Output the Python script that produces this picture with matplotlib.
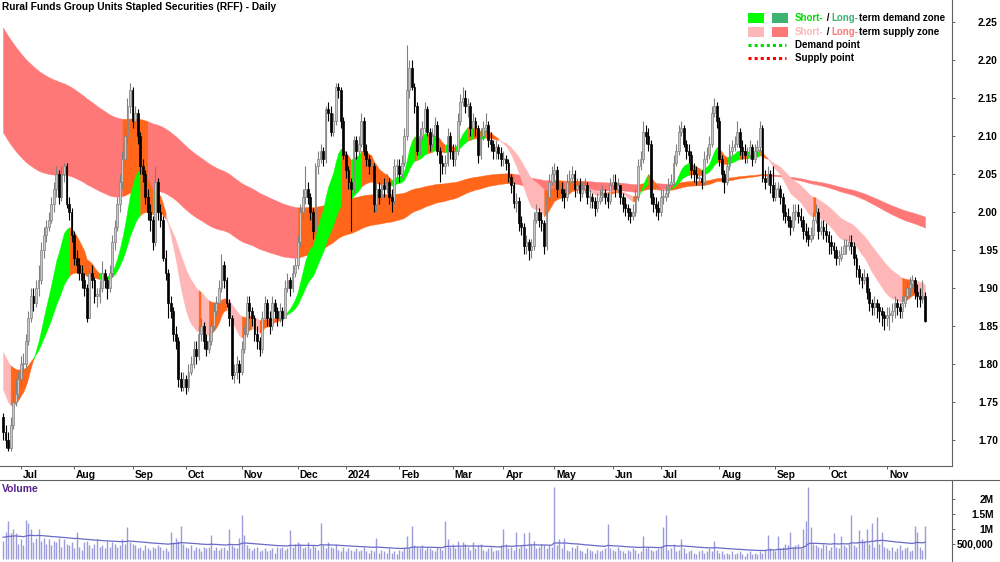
import numpy as np
import pandas as pd
import matplotlib
matplotlib.use("Agg")
import matplotlib.pyplot as plt
from matplotlib.lines import Line2D
from matplotlib.patches import Rectangle
import matplotlib.transforms as mtransforms

plt.rcParams['font.family'] = ['Liberation Sans', 'DejaVu Sans']
plt.rcParams['font.weight'] = 'bold'

TITLE = "Rural Funds Group Units Stapled Securities (RFF) - Daily"
HOLIDAYS = ["2023-12-25", "2023-12-26", "2024-01-01", "2024-01-26",
            "2024-03-29", "2024-04-01", "2024-04-25", "2024-06-10"]
dates = pd.bdate_range("2023-06-22", "2024-11-22")
dates = dates[~dates.isin(pd.to_datetime(HOLIDAYS))]

first_open = 1.73
closes = [
    1.71, 1.70, 1.69, 1.72, 1.75, 1.76, 1.78, 1.80, 1.80, 1.83,
    1.86, 1.89, 1.88, 1.90, 1.91, 1.95, 1.97, 1.98, 1.99, 2.01,
    2.03, 2.05, 2.02, 2.05, 2.06, 2.01, 2.00, 1.97, 1.94,
    1.93, 1.92, 1.91, 1.90, 1.86, 1.92, 1.91, 1.89, 1.89, 1.90,
    1.92, 1.91, 1.90, 1.92, 1.96, 1.98, 2.01, 2.04, 2.07, 2.10,
    2.14, 2.16, 2.12, 2.13, 2.10, 2.06, 2.05, 2.02, 2.00, 1.99,
    1.96, 2.04, 2.00, 1.99, 1.94, 1.92, 1.88, 1.87, 1.84, 1.83,
    1.78, 1.77, 1.78, 1.77, 1.79, 1.80, 1.82, 1.81, 1.84,
    1.85, 1.83, 1.82, 1.83, 1.85, 1.87, 1.88, 1.90, 1.93, 1.91,
    1.88, 1.86, 1.785, 1.79, 1.80, 1.79, 1.82, 1.84, 1.88, 1.87,
    1.86, 1.84, 1.83, 1.82, 1.86, 1.88, 1.86, 1.85, 1.88, 1.87,
    1.86, 1.87, 1.86, 1.90, 1.91, 1.90, 1.92, 1.93, 1.96,
    2.00, 2.02, 2.03, 2.02, 2.00, 1.975, 2.06, 2.07, 2.08, 2.07,
    2.135, 2.13, 2.105, 2.12, 2.165, 2.16, 2.12, 2.075, 2.055, 2.04,
    2.03, 2.095, 2.08, 2.09, 2.12, 2.08, 2.07, 2.06, 2.06, 2.01,
    2.03, 2.02, 2.035, 2.03, 2.04, 2.02, 2.015, 2.06, 2.06,
    2.05, 2.065, 2.10, 2.16, 2.19, 2.165, 2.14, 2.08, 2.10, 2.11,
    2.135, 2.105, 2.09, 2.10, 2.115, 2.08, 2.065, 2.06, 2.065, 2.10,
    2.08, 2.07, 2.08, 2.12, 2.145, 2.15, 2.14, 2.14, 2.11, 2.12,
    2.11, 2.075, 2.10, 2.11, 2.115, 2.095, 2.09, 2.08, 2.085, 2.077,
    2.07, 2.07, 2.065, 2.046, 2.035, 2.012, 2.015, 1.985, 1.98,
    1.955, 1.96, 1.95, 1.955, 1.99, 2.00, 1.99, 1.985, 1.955, 2.02,
    2.04, 2.05, 2.055, 2.03, 2.03, 2.025, 2.02, 2.04, 2.045, 2.05,
    2.03, 2.035, 2.025, 2.03, 2.035, 2.02, 2.02, 2.015, 2.005, 2.015,
    2.02, 2.025, 2.02, 2.015, 2.035, 2.04, 2.03, 2.035, 2.02,
    2.01, 2.005, 2.00, 1.995, 2.00, 2.02, 2.06, 2.07, 2.105, 2.10,
    2.09, 2.02, 2.01, 2.005, 2.00, 2.02, 2.02, 2.025, 2.035, 2.04,
    2.065, 2.08, 2.105, 2.11, 2.09, 2.08, 2.075, 2.055, 2.05, 2.045,
    2.045, 2.04, 2.07, 2.075, 2.09, 2.13, 2.14, 2.12, 2.07, 2.05,
    2.04, 2.06, 2.08, 2.085, 2.09, 2.105, 2.085, 2.08, 2.075,
    2.075, 2.085, 2.07, 2.08, 2.085, 2.11, 2.045, 2.04, 2.05, 2.035,
    2.02, 2.03, 2.03, 2.02, 2.00, 1.995, 1.99, 1.98, 2.00, 2.00,
    1.995, 1.99, 1.975, 1.97, 1.965, 1.97, 1.99, 2.00, 1.975, 1.98,
    1.975, 1.97, 1.96, 1.955, 1.95, 1.94, 1.94, 1.945, 1.955,
    1.955, 1.96, 1.955, 1.94, 1.925, 1.915, 1.91, 1.915, 1.895, 1.88,
    1.875, 1.88, 1.875, 1.87, 1.865, 1.86, 1.865, 1.865, 1.87, 1.88,
    1.875, 1.87, 1.88, 1.89, 1.90, 1.905, 1.91, 1.895, 1.89, 1.885,
    1.89, 1.857,
]
highs = [
    1.735, 1.72, 1.71, 1.73, 1.76, 1.78, 1.79, 1.81, 1.815, 1.84,
    1.87, 1.90, 1.90, 1.91, 1.93, 1.96, 1.98, 1.99, 2.00, 2.02,
    2.04, 2.06, 2.055, 2.06, 2.065, 2.065, 2.02, 2.005, 1.975,
    1.95, 1.94, 1.93, 1.92, 1.905, 1.925, 1.93, 1.915, 1.90, 1.91,
    1.935, 1.925, 1.915, 1.93, 1.97, 1.99, 2.02, 2.05, 2.08, 2.11,
    2.15, 2.17, 2.165, 2.14, 2.135, 2.105, 2.07, 2.055, 2.03, 2.01,
    1.995, 2.06, 2.045, 2.01, 1.995, 1.95, 1.925, 1.89, 1.875, 1.85,
    1.835, 1.79, 1.79, 1.785, 1.80, 1.81, 1.83, 1.83, 1.85,
    1.86, 1.855, 1.84, 1.84, 1.86, 1.88, 1.89, 1.91, 1.945, 1.935,
    1.915, 1.885, 1.865, 1.80, 1.81, 1.805, 1.83, 1.85, 1.89, 1.89,
    1.875, 1.865, 1.85, 1.835, 1.87, 1.89, 1.885, 1.87, 1.89, 1.885,
    1.875, 1.88, 1.875, 1.91, 1.92, 1.915, 1.93, 1.94, 1.97,
    2.01, 2.03, 2.06, 2.04, 2.025, 2.005, 2.065, 2.08, 2.09, 2.085,
    2.14, 2.145, 2.14, 2.13, 2.17, 2.17, 2.165, 2.125, 2.08, 2.06,
    2.045, 2.10, 2.10, 2.10, 2.13, 2.125, 2.09, 2.075, 2.07, 2.065,
    2.04, 2.04, 2.045, 2.045, 2.05, 2.045, 2.03, 2.07, 2.07,
    2.07, 2.075, 2.11, 2.22, 2.20, 2.20, 2.17, 2.145, 2.11, 2.12,
    2.145, 2.14, 2.11, 2.11, 2.125, 2.12, 2.085, 2.075, 2.075, 2.11,
    2.105, 2.09, 2.09, 2.13, 2.155, 2.165, 2.16, 2.15, 2.145, 2.13,
    2.125, 2.115, 2.11, 2.12, 2.13, 2.12, 2.105, 2.095, 2.095, 2.09,
    2.085, 2.08, 2.075, 2.07, 2.05, 2.04, 2.025, 2.02, 1.995,
    1.985, 1.97, 1.965, 1.965, 2.00, 2.01, 2.005, 2.00, 1.99, 2.025,
    2.05, 2.06, 2.065, 2.06, 2.04, 2.04, 2.03, 2.05, 2.055, 2.06,
    2.055, 2.045, 2.045, 2.04, 2.045, 2.04, 2.03, 2.025, 2.02, 2.025,
    2.03, 2.035, 2.03, 2.025, 2.045, 2.05, 2.05, 2.045, 2.03,
    2.025, 2.02, 2.01, 2.005, 2.01, 2.03, 2.07, 2.08, 2.12, 2.115,
    2.11, 2.095, 2.025, 2.02, 2.015, 2.03, 2.03, 2.035, 2.045, 2.05,
    2.075, 2.09, 2.115, 2.12, 2.115, 2.095, 2.09, 2.08, 2.065, 2.06,
    2.055, 2.055, 2.08, 2.085, 2.10, 2.14, 2.15, 2.145, 2.125, 2.075,
    2.055, 2.07, 2.09, 2.095, 2.10, 2.12, 2.11, 2.095, 2.09,
    2.085, 2.095, 2.09, 2.09, 2.095, 2.12, 2.115, 2.055, 2.06, 2.055,
    2.06, 2.04, 2.04, 2.035, 2.025, 2.01, 2.005, 1.995, 2.01, 2.01,
    2.01, 2.005, 1.995, 1.985, 1.98, 1.98, 2.00, 2.01, 2.005, 1.99,
    1.99, 1.985, 1.975, 1.97, 1.96, 1.955, 1.95, 1.955, 1.965,
    1.965, 1.97, 1.97, 1.96, 1.945, 1.93, 1.92, 1.925, 1.92, 1.90,
    1.885, 1.89, 1.885, 1.88, 1.875, 1.87, 1.875, 1.875, 1.88, 1.89,
    1.885, 1.88, 1.89, 1.90, 1.91, 1.915, 1.917, 1.915, 1.905, 1.90,
    1.91, 1.895,
]
lows = [
    1.70, 1.69, 1.685, 1.685, 1.715, 1.745, 1.755, 1.77, 1.79, 1.795,
    1.825, 1.855, 1.87, 1.875, 1.89, 1.905, 1.94, 1.96, 1.975, 1.985,
    2.00, 2.02, 2.01, 2.015, 2.04, 2.005, 1.99, 1.96, 1.93,
    1.92, 1.91, 1.90, 1.89, 1.855, 1.86, 1.90, 1.88, 1.875, 1.88,
    1.895, 1.90, 1.885, 1.895, 1.915, 1.95, 1.975, 2.00, 2.03, 2.06,
    2.09, 2.13, 2.11, 2.11, 2.09, 2.05, 2.04, 2.01, 1.99, 1.975,
    1.95, 1.955, 1.99, 1.98, 1.935, 1.91, 1.86, 1.86, 1.83, 1.82,
    1.77, 1.765, 1.765, 1.76, 1.765, 1.785, 1.795, 1.80, 1.805,
    1.83, 1.82, 1.81, 1.815, 1.825, 1.845, 1.865, 1.875, 1.895, 1.90,
    1.875, 1.85, 1.78, 1.775, 1.78, 1.775, 1.785, 1.815, 1.835, 1.86,
    1.85, 1.83, 1.82, 1.81, 1.815, 1.855, 1.85, 1.84, 1.845, 1.86,
    1.85, 1.855, 1.85, 1.865, 1.895, 1.89, 1.895, 1.915, 1.925,
    1.955, 1.99, 2.01, 2.01, 1.99, 1.965, 1.97, 2.05, 2.065, 2.06,
    2.065, 2.12, 2.10, 2.10, 2.115, 2.15, 2.11, 2.07, 2.045, 2.03,
    1.975, 2.025, 2.07, 2.075, 2.085, 2.075, 2.06, 2.05, 2.045, 2.00,
    2.00, 2.01, 2.015, 2.02, 2.025, 2.01, 2.00, 2.01, 2.045,
    2.04, 2.045, 2.06, 2.095, 2.15, 2.16, 2.13, 2.075, 2.075, 2.095,
    2.105, 2.10, 2.08, 2.085, 2.095, 2.075, 2.04, 2.05, 2.05, 2.06,
    2.07, 2.06, 2.06, 2.075, 2.115, 2.14, 2.13, 2.125, 2.10, 2.10,
    2.10, 2.065, 2.07, 2.095, 2.105, 2.085, 2.08, 2.07, 2.07, 2.07,
    2.06, 2.06, 2.055, 2.04, 2.025, 2.005, 2.00, 1.975, 1.97,
    1.945, 1.945, 1.937, 1.94, 1.95, 1.985, 1.98, 1.975, 1.945, 1.95,
    2.015, 2.035, 2.04, 2.02, 2.02, 2.015, 2.005, 2.015, 2.035, 2.04,
    2.02, 2.025, 2.015, 2.02, 2.025, 2.01, 2.005, 2.005, 1.995, 2.00,
    2.01, 2.015, 2.01, 2.005, 2.01, 2.03, 2.02, 2.025, 2.01,
    2.00, 1.995, 1.99, 1.985, 1.99, 1.995, 2.015, 2.055, 2.065, 2.09,
    2.08, 2.01, 2.00, 1.995, 1.99, 1.995, 2.01, 2.015, 2.02, 2.03,
    2.035, 2.06, 2.075, 2.10, 2.085, 2.07, 2.065, 2.045, 2.04, 2.035,
    2.035, 2.03, 2.035, 2.065, 2.07, 2.085, 2.125, 2.11, 2.06, 2.04,
    2.025, 2.035, 2.055, 2.075, 2.08, 2.085, 2.075, 2.07, 2.065,
    2.065, 2.07, 2.06, 2.065, 2.075, 2.08, 2.04, 2.03, 2.035, 2.025,
    2.015, 2.015, 2.02, 2.01, 1.99, 1.985, 1.98, 1.97, 1.975, 1.99,
    1.985, 1.98, 1.965, 1.96, 1.955, 1.96, 1.965, 1.985, 1.965, 1.97,
    1.965, 1.96, 1.945, 1.945, 1.94, 1.93, 1.93, 1.935, 1.945,
    1.945, 1.95, 1.945, 1.93, 1.915, 1.905, 1.90, 1.905, 1.885, 1.87,
    1.865, 1.865, 1.86, 1.855, 1.85, 1.845, 1.85, 1.845, 1.855, 1.86,
    1.865, 1.86, 1.86, 1.875, 1.885, 1.89, 1.90, 1.885, 1.875, 1.875,
    1.88, 1.855,
]
volumes_k = [
    600, 900, 1250, 850, 1000, 850, 500, 650, 450, 1300,
    1200, 1000, 550, 700, 1000, 600, 700, 500, 650, 450,
    600, 550, 700, 400, 650, 500, 450, 550, 350, 900,
    400, 300, 550, 600, 450, 350, 500, 650, 400, 450,
    350, 600, 400, 550, 500, 400, 450, 650, 500, 1050,
    550, 500, 450, 350, 400, 300, 450, 350, 300, 400,
    350, 450, 400, 300, 350, 250, 900, 550, 700, 600,
    1100, 500, 400, 350, 450, 300, 400, 350, 250, 400,
    350, 400, 800, 300, 400, 300, 350, 400, 300, 1000,
    450, 400, 350, 700, 1450, 800, 450, 350, 300, 350,
    400, 250, 300, 350, 250, 300, 350, 200, 400, 350,
    400, 300, 350, 950, 400, 500, 550, 500, 350, 400,
    550, 350, 450, 400, 300, 1200, 450, 350, 550, 400,
    350, 500, 300, 250, 400, 250, 350, 300, 250, 350,
    250, 300, 400, 250, 200, 300, 250, 700, 200, 300,
    250, 200, 350, 200, 250, 150, 300, 250, 400, 750,
    350, 1100, 450, 400, 350, 450, 300, 400, 350, 300,
    250, 400, 350, 300, 1250, 650, 400, 500, 350, 600,
    400, 550, 500, 400, 300, 550, 350, 450, 500, 300,
    250, 350, 400, 250, 300, 300, 450, 1000, 500, 350,
    400, 300, 900, 350, 450, 850, 350, 900, 500, 600,
    350, 400, 500, 450, 350, 450, 400, 2400, 450, 650,
    350, 700, 300, 250, 400, 350, 450, 300, 250, 200,
    350, 300, 250, 200, 300, 250, 300, 350, 1150, 350,
    300, 250, 400, 300, 250, 200, 300, 250, 350, 300,
    200, 250, 750, 350, 400, 300, 250, 300, 350, 400,
    1050, 1450, 300, 350, 500, 250, 300, 650, 350, 200,
    250, 300, 200, 150, 250, 300, 200, 250, 350, 250,
    600, 300, 200, 250, 150, 200, 150, 250, 150, 200,
    250, 150, 100, 200, 250, 150, 200, 150, 250, 200,
    300, 800, 350, 300, 250, 750, 350, 400, 500, 450,
    900, 400, 450, 500, 350, 1000, 1250, 2400, 1050, 500,
    450, 400, 350, 500, 450, 300, 400, 850, 400, 350,
    750, 450, 400, 500, 1450, 450, 400, 950, 650, 600,
    1000, 500, 1200, 400, 1400, 500, 900, 400, 350, 300,
    400, 250, 350, 450, 300, 350, 400, 250, 300, 1100,
    900, 400, 300, 1100,
]

price_ticks = [1.70, 1.75, 1.80, 1.85, 1.90, 1.95, 2.00, 2.05, 2.10, 2.15, 2.20, 2.25]
volume_ticks = [500000, 1000000, 1500000, 2000000]
volume_tick_labels = ["500,000", "1M", "1.5M", "2M"]

SHORT_FAST, SHORT_SLOW = 15, 35
LONG_FAST, LONG_SLOW = 150, 200
SHORT_SEEDS = (1.775, 1.822)
LONG_SEEDS = (2.11, 2.248)
SHORT_SLOPE_LAG, LONG_SLOPE_LAG = 1, 5
VOL_MA_PERIOD, VOL_MA_SEED = 50, 730000

ST_DEMAND, LT_DEMAND = '#00FF00', '#3CB371'
ST_SUPPLY, LT_SUPPLY = '#FFB6B6', '#FF7878'
CONFLICT = '#FF661A'

n = len(dates)
assert len(closes) == n and len(highs) == n and len(lows) == n and len(volumes_k) == n, \
    (n, len(closes), len(highs), len(lows), len(volumes_k))

closes_a = np.array(closes)
highs_a = np.array(highs)
lows_a = np.array(lows)
opens_a = np.concatenate([[first_open], closes_a[:-1]])
vol = np.array(volumes_k) * 1000.0
x = np.arange(n)


def ema(values, period, seed):
    a = 2.0 / (period + 1)
    out = np.empty(len(values))
    prev = seed
    for i, v in enumerate(values):
        prev = prev + a * (v - prev)
        out[i] = prev
    return out


W, H = 1000, 562
fig = plt.figure(figsize=(10, 5.62), dpi=100)
ax = fig.add_axes([0, 1 - 466 / H, 952 / W, 466 / H])
axv = fig.add_axes([0, 0, 952 / W, 82 / H])

X0 = -3 / 2.54
X1 = 949 / 2.54
ax.set_xlim(X0, X1)
axv.set_xlim(X0, X1)
ax.set_ylim(2.25 - 444 / 760, 2.25 + 22 / 760)
axv.set_ylim(-0.1e6, 2.63e6)


def draw_band(axis, fast, slow, seed_fast, lag, demand_col, supply_col, z):
    hist = np.concatenate([[seed_fast] * lag, fast])
    rising = fast > hist[:n]
    above = fast > slow
    cols = np.where(above & rising, demand_col,
                    np.where((~above) & (~rising), supply_col, CONFLICT))
    start = 0
    for i in range(1, n + 1):
        if i == n or cols[i] != cols[start]:
            s = max(start - 1, 0)
            axis.fill_between(x[s:i], fast[s:i], slow[s:i], facecolor=cols[start],
                              edgecolor=cols[start], linewidth=0.3, zorder=z)
            start = i


lf = ema(closes_a, LONG_FAST, LONG_SEEDS[0])
ls = ema(closes_a, LONG_SLOW, LONG_SEEDS[1])
sf = ema(closes_a, SHORT_FAST, SHORT_SEEDS[0])
ss = ema(closes_a, SHORT_SLOW, SHORT_SEEDS[1])
draw_band(ax, lf, ls, LONG_SEEDS[0], LONG_SLOPE_LAG, LT_DEMAND, LT_SUPPLY, 1)
draw_band(ax, sf, ss, SHORT_SEEDS[0], SHORT_SLOPE_LAG, ST_DEMAND, ST_SUPPLY, 2)

# candles
up = closes_a >= opens_a
body_lo = np.minimum(opens_a, closes_a)
body_h = np.maximum(np.abs(closes_a - opens_a), 0.0015)
ax.vlines(x[up], lows_a[up], highs_a[up], color='#808080', lw=0.8, zorder=3)
ax.vlines(x[~up], lows_a[~up], highs_a[~up], color='black', lw=0.8, zorder=3)
ax.bar(x[up], body_h[up], bottom=body_lo[up], width=0.72, color='#C8C8C8',
       edgecolor='#808080', linewidth=0.5, zorder=4)
ax.bar(x[~up], body_h[~up], bottom=body_lo[~up], width=0.72, color='black',
       edgecolor='black', linewidth=0.5, zorder=4)

# volume
axv.vlines(x, 0, vol, color='#9C9CDA', lw=1.0, zorder=2)
vma = ema(vol, VOL_MA_PERIOD, VOL_MA_SEED)
axv.plot(x, vma, color='#6A6AC8', lw=0.9, zorder=3)

# axes styling
spine_col = '#606060'
for a in (ax, axv):
    for side in ('left', 'top'):
        a.spines[side].set_visible(False)
    a.spines['right'].set_color(spine_col)
    a.spines['right'].set_linewidth(0.8)
    a.yaxis.tick_right()
ax.spines['bottom'].set_color(spine_col)
ax.spines['bottom'].set_linewidth(0.8)
axv.spines['bottom'].set_visible(False)

ax.set_yticks(price_ticks)
ax.set_yticklabels([f"{v:.2f}" for v in price_ticks])
ax.tick_params(axis='y', direction='out', length=2, pad=31, labelsize=7.4,
               colors='black', width=0.7)
ax.tick_params(axis='y', color=spine_col)
for lbl in ax.get_yticklabels():
    lbl.set_horizontalalignment('right')

axv.set_yticks(volume_ticks)
axv.set_yticklabels(volume_tick_labels)
axv.tick_params(axis='y', direction='out', length=2, pad=28, labelsize=7.4, width=0.7)
axv.tick_params(axis='y', color=spine_col)
for lbl in axv.get_yticklabels():
    lbl.set_horizontalalignment('right')
axv.set_xticks([])

month_pos = [j for j in range(1, n) if dates[j].month != dates[j - 1].month]
month_lbl = [str(dates[j].year) if dates[j].month == 1 else dates[j].strftime('%b') for j in month_pos]
ax.set_xticks(month_pos)
ax.set_xticklabels(month_lbl, ha='left')
ax.tick_params(axis='x', direction='out', length=2.2, pad=0.8, labelsize=7.4,
               width=0.7, color=spine_col)
offset = mtransforms.ScaledTranslation(2 / 100, 0, fig.dpi_scale_trans)
for lbl in ax.get_xticklabels():
    lbl.set_transform(lbl.get_transform() + offset)

# full-width separator above volume panel
fig.add_artist(Line2D([0, 1], [82 / H, 82 / H], color=spine_col, lw=0.8))

fig.text(2 / W, 1 - 2 / H, TITLE, ha='left', va='top', fontsize=7.3, fontweight='bold')
axv.text(2 / 952, 1 - 4 / 82, "Volume", transform=axv.transAxes, ha='left', va='top',
         fontsize=7.4, fontweight='bold', color='#552288')

# legend
renderer = fig.canvas.get_renderer()
LEG_FS = 7.0


def text_width(s):
    t = fig.text(0, 0, s, fontsize=LEG_FS, fontweight='bold')
    w = t.get_window_extent(renderer).width
    t.remove()
    return w


def colored_line(x_px, y_px, parts):
    full = ""
    bar_w = text_width("|")
    for s, col in parts:
        off = (text_width(full + "|") - bar_w) if full else 0.0
        fig.text((x_px + off) / W, 1 - y_px / H, s, color=col, fontsize=LEG_FS,
                 fontweight='bold', ha='left', va='center')
        full += s


for (px, col) in [(748, ST_DEMAND), (772, LT_DEMAND)]:
    fig.add_artist(Rectangle((px / W, 1 - 23 / H), 16 / W, 10 / H, facecolor=col,
                             edgecolor='none', transform=fig.transFigure))
for (px, col) in [(748, ST_SUPPLY), (772, LT_SUPPLY)]:
    fig.add_artist(Rectangle((px / W, 1 - 37 / H), 16 / W, 10 / H, facecolor=col,
                             edgecolor='none', transform=fig.transFigure))
colored_line(795, 18, [("Short-", '#00DD00'), (" / ", 'black'), ("Long-", LT_DEMAND),
                       ("term demand zone", 'black')])
colored_line(795, 32, [("Short-", ST_SUPPLY), (" / ", 'black'), ("Long-", LT_SUPPLY),
                       ("term supply zone", 'black')])
fig.add_artist(Line2D([748 / W, 786 / W], [1 - 45 / H, 1 - 45 / H], color='#00DD00',
                      lw=2.2, linestyle=(0, (1, 1))))
fig.add_artist(Line2D([748 / W, 786 / W], [1 - 58 / H, 1 - 58 / H], color='#FF0000',
                      lw=2.2, linestyle=(0, (1, 1))))
colored_line(795, 45, [("Demand point", 'black')])
colored_line(795, 58, [("Supply point", 'black')])

fig.savefig("out.png", dpi=100)
